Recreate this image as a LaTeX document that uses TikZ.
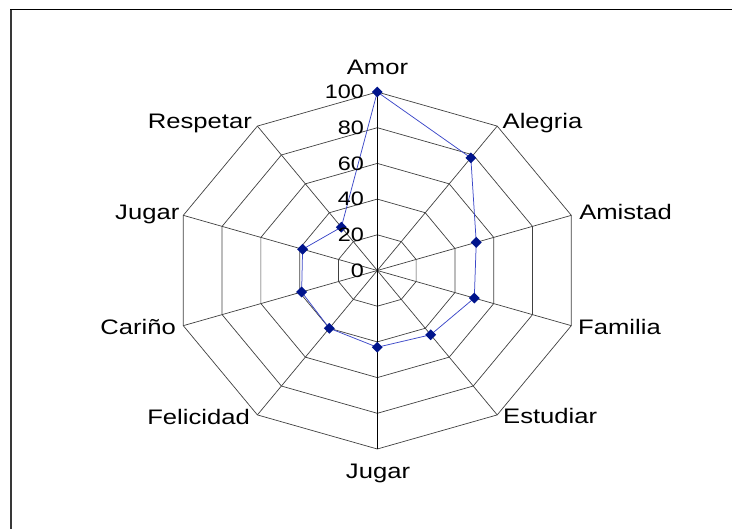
\documentclass[tikz,border=0pt]{standalone}
\usepackage{fontspec}
\setmainfont{Liberation Sans}
\usetikzlibrary{shapes.geometric}
\definecolor{serieblue}{RGB}{60,72,200}
\definecolor{markernavy}{RGB}{0,20,140}
\newcommand\stretchtxt[1]{\scalebox{1.2}[1]{#1}}
\newcommand\stretchlbl[1]{\scalebox{1.22}[1]{#1}}
\begin{document}
\begin{tikzpicture}[x=1pt,y=-1pt,
  grid/.style={draw=black!75, line width=0.7pt},
  vaxis/.style={draw=black, line width=1pt},
  series/.style={draw=serieblue, line width=0.75pt},
  marker/.style={diamond, fill=markernavy, draw=none, minimum size=11pt, inner sep=0pt},
  lbl/.style={font=\fontsize{21}{24}\selectfont, inner sep=0pt},
  num/.style={font=\fontsize{19.5}{22}\selectfont, inner sep=0pt, anchor=east}]
\useasboundingbox (0,0) rectangle (732,529);
% frame
\draw[line width=1.6pt, black!78] (11,529) -- (11,9.5);
\draw[line width=1.5pt, black] (10.2,9.5) -- (732,9.5);
\begin{scope}[shift={(377.3,270.5)}, x={(2.04pt,0pt)}, y={(0pt,1.785pt)}]
  \coordinate (c) at (0,0);
  \foreach \k in {0,...,9}
    \draw[grid] (c) -- ({90-36*\k}:100);
  \foreach \r in {20,40,60,80,100}
    \draw[grid] (90:\r) \foreach \k in {1,...,9}{ -- ({90-36*\k}:\r)} -- cycle;
  \draw[vaxis] (90:100) -- (270:100);
  \foreach \v [count=\i from 0] in {100,78,51,50,44.5,43,40,39,38.5,30}
    \coordinate (d\i) at ({90-36*\i}:\v);
  \draw[series] (d0) -- (d1) -- (d2) -- (d3) -- (d4) -- (d5) -- (d6) -- (d7) -- (d8) -- (d9) -- cycle;
  \foreach \i in {0,...,9}
    \node[marker] (m\i) at (d\i) {};
\end{scope}
% value labels
\foreach \v in {0,20,40,60,80,100}
  \node[num] (n\v) at (364,{270.5-1.785*\v}) {\stretchtxt{\v}};
% category labels
\node[lbl, anchor=base] (amor) at (377.5,75) {\stretchlbl{Amor}};
\node[lbl, anchor=base west] (alegria) at (502.5,128.3) {\stretchlbl{Alegria}};
\node[lbl, anchor=base east] (amistad) at (672,220) {\stretchlbl{Amistad}};
\node[lbl, anchor=base east] (familia) at (661,335) {\stretchlbl{Familia}};
\node[lbl, anchor=base west] (estudiar) at (503,424) {\stretchlbl{Estudiar}};
\node[lbl, anchor=base] (jugarb) at (378,478.3) {\stretchlbl{Jugar}};
\node[lbl, anchor=base east] (felicidad) at (250,425) {\stretchlbl{Felicidad}};
\node[lbl, anchor=base east] (carino) at (176,335) {\stretchlbl{Cariño}};
\node[lbl, anchor=base east] (jugarl) at (179.5,220) {\stretchlbl{Jugar}};
\node[lbl, anchor=base east] (respetar) at (252,128.3) {\stretchlbl{Respetar}};
\end{tikzpicture}
\end{document}
